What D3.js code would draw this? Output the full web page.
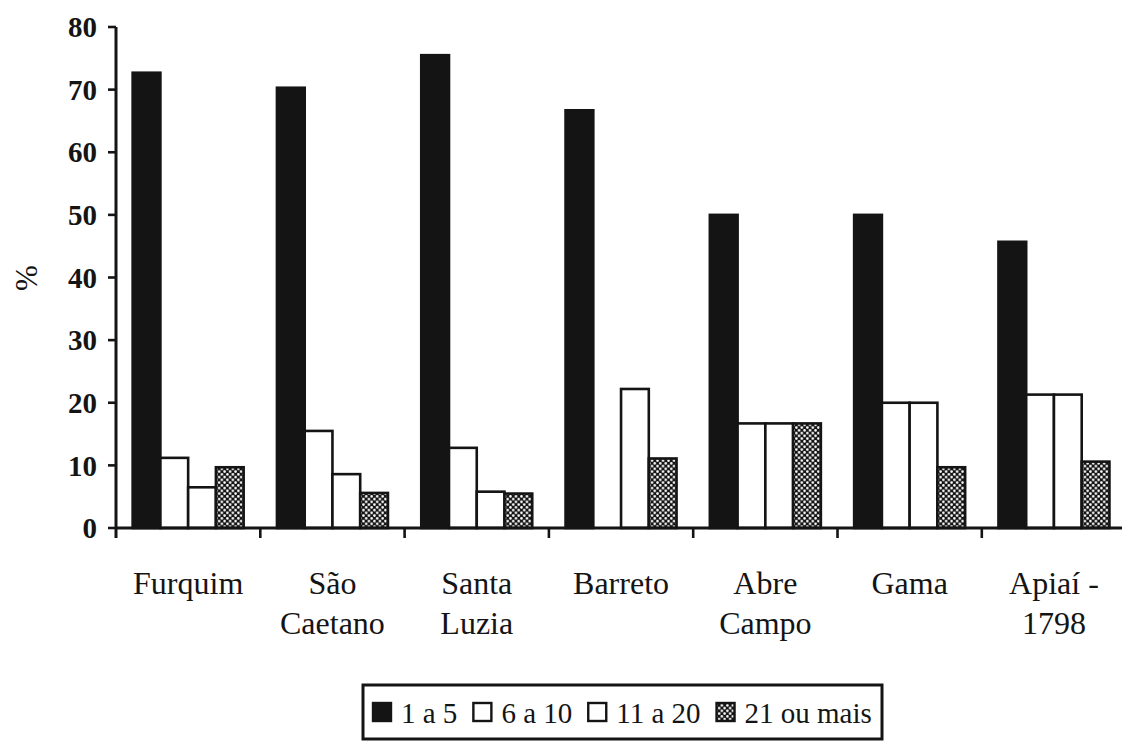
<!DOCTYPE html>
<html>
<head>
<meta charset="utf-8">
<script src="https://cdn.jsdelivr.net/npm/d3@7"></script>
<style>
  html, body { margin: 0; padding: 0; background: #fff; }
  svg { display: block; }
  text { font-family: "Liberation Serif", "Times New Roman", serif; fill: #141414; }
</style>
</head>
<body>
<svg id="chart" width="1122" height="744"></svg>
<script>
// Localities (x-axis categories), each label split into lines
const categories = ["Furquim", "São Caetano", "Santa Luzia", "Barreto", "Abre Campo", "Gama", "Apiaí - 1798"];
const categoryLines = [["Furquim"], ["São", "Caetano"], ["Santa", "Luzia"], ["Barreto"], ["Abre", "Campo"], ["Gama"], ["Apiaí -", "1798"]];

// Size classes (series)
const seriesNames = ["1 a 5", "6 a 10", "11 a 20", "21 ou mais"];

// Percentages per size class, one value per locality
const values1a5     = [72.7, 70.3, 75.5, 66.7, 50.0, 50.0, 45.7];
const values6a10    = [11.2, 15.5, 12.8, 0.0, 16.7, 20.0, 21.3];
const values11a20   = [6.5, 8.6, 5.8, 22.2, 16.7, 20.0, 21.3];
const values21mais  = [9.7, 5.6, 5.5, 11.1, 16.7, 9.7, 10.6];
const seriesValues = [values1a5, values6a10, values11a20, values21mais];

const yTicks = [0, 10, 20, 30, 40, 50, 60, 70, 80];

const svg = d3.select("#chart");
const ink = "#141414";

// Dotted fill for the "21 ou mais" class
const defs = svg.append("defs");
const pat = defs.append("pattern")
  .attr("id", "dots").attr("patternUnits", "userSpaceOnUse")
  .attr("width", 5.5).attr("height", 5.5);
pat.append("rect").attr("width", 5.5).attr("height", 5.5).attr("fill", ink);
[[1.375, 1.375], [4.125, 4.125]].forEach(([cx, cy]) =>
  pat.append("circle").attr("cx", cx).attr("cy", cy).attr("r", 1.3).attr("fill", "#fff"));

const fills = [ink, "#fff", "#fff", "url(#dots)"];

// Scales
const left = 116, bandStep = 144.3;
const x0 = d3.scaleBand().domain(categories).range([left, left + bandStep * categories.length]).paddingInner(0).paddingOuter(0);
const x1 = d3.scaleBand().domain(d3.range(seriesNames.length)).range([0, x0.bandwidth()]).paddingInner(0).paddingOuter(0.6);
const y = d3.scaleLinear().domain([0, 80]).range([528, 27]);

// Bars
const groups = svg.append("g").selectAll("g")
  .data(categories).join("g")
  .attr("transform", d => `translate(${x0(d)},0)`);

groups.selectAll("rect")
  .data((d, i) => seriesValues.map((vals, s) => ({ s, v: vals[i] })).filter(o => o.v > 0))
  .join("rect")
  .attr("x", d => x1(d.s))
  .attr("width", x1.bandwidth())
  .attr("y", d => y(d.v))
  .attr("height", d => y(0) - y(d.v))
  .attr("fill", d => fills[d.s])
  .attr("stroke", ink)
  .attr("stroke-width", 2.6);

// Y axis
const yAxis = svg.append("g");
yAxis.append("line")
  .attr("x1", left).attr("x2", left).attr("y1", y(80)).attr("y2", y(0) + 10)
  .attr("stroke", ink).attr("stroke-width", 3);
yAxis.selectAll("line.tick").data(yTicks).join("line")
  .attr("class", "tick")
  .attr("x1", left - 8).attr("x2", left)
  .attr("y1", d => y(d)).attr("y2", d => y(d))
  .attr("stroke", ink).attr("stroke-width", 2.6);
yAxis.selectAll("text").data(yTicks).join("text")
  .attr("x", 97).attr("y", d => y(d))
  .attr("dy", "0.35em")
  .attr("text-anchor", "end")
  .attr("font-size", 29).attr("font-weight", "bold")
  .text(d => d);

svg.append("text")
  .attr("transform", "translate(26,278) rotate(-90)")
  .attr("text-anchor", "middle").attr("dy", "0.35em")
  .attr("font-size", 31)
  .text("%");

// X axis
const xAxis = svg.append("g");
xAxis.append("line")
  .attr("x1", left).attr("x2", 1122).attr("y1", y(0)).attr("y2", y(0))
  .attr("stroke", ink).attr("stroke-width", 3);
const boundaries = categories.map(c => x0(c)).concat([x0.range()[1]]).slice(1);
xAxis.selectAll("line.tick").data(boundaries).join("line")
  .attr("class", "tick")
  .attr("x1", d => d).attr("x2", d => d)
  .attr("y1", y(0)).attr("y2", y(0) + 10)
  .attr("stroke", ink).attr("stroke-width", 2.6);

const labels = xAxis.selectAll("text").data(categories).join("text")
  .attr("text-anchor", "middle")
  .attr("font-size", 32)
  .attr("x", d => x0(d) + x0.bandwidth() / 2);
labels.each(function (d, i) {
  d3.select(this).selectAll("tspan").data(categoryLines[i]).join("tspan")
    .attr("x", x0(d) + x0.bandwidth() / 2)
    .attr("y", (t, j) => 594 + j * 40)
    .text(t => t);
});

// Legend
const legend = svg.append("g");
legend.append("rect")
  .attr("x", 363).attr("y", 685).attr("width", 519).attr("height", 54)
  .attr("fill", "#fff").attr("stroke", ink).attr("stroke-width", 3);
let lx = 373;
seriesNames.forEach((name, s) => {
  legend.append("rect")
    .attr("x", lx).attr("y", 703).attr("width", 18).attr("height", 18)
    .attr("fill", fills[s]).attr("stroke", ink).attr("stroke-width", 2.4);
  const t = legend.append("text")
    .attr("x", lx + 28).attr("y", 723)
    .attr("font-size", 29)
    .text(name);
  lx += 28 + t.node().getComputedTextLength() + 16;
});
</script>
</body>
</html>
